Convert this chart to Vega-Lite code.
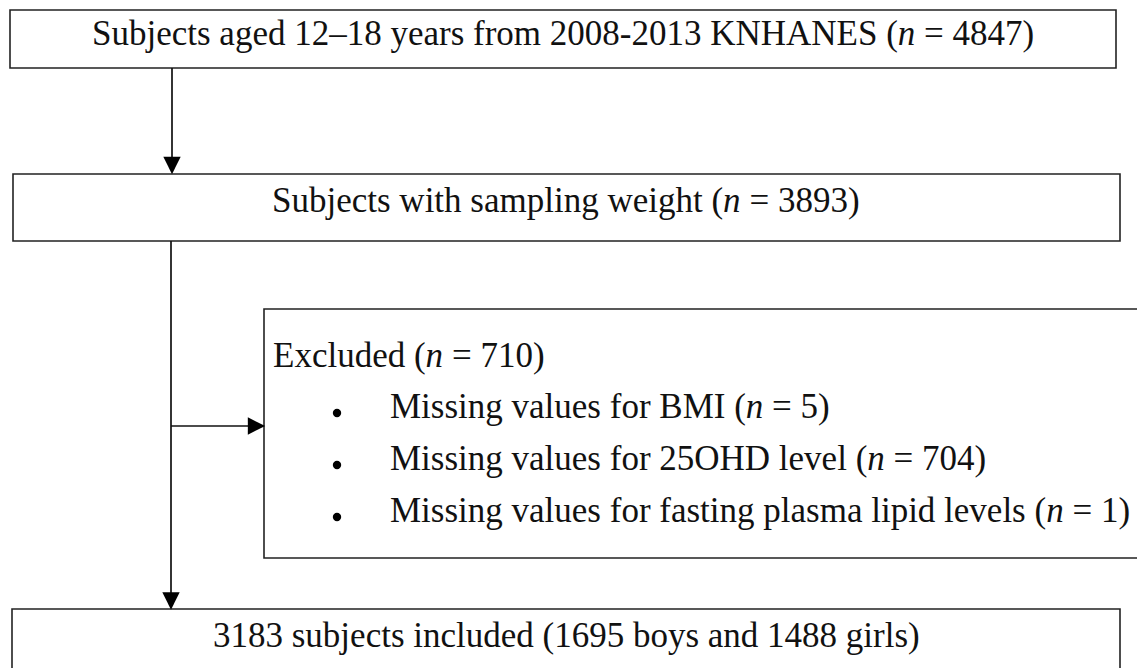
{
  "$schema": "https://vega.github.io/schema/vega-lite/v6.json",
  "width": 1137,
  "height": 668,
  "padding": 0,
  "autosize": {"type": "none"},
  "background": "white",
  "config": {"view": {"stroke": null}},
  "datasets": {
    "boxes": [
      {"x1": 10, "x2": 1116, "y1": 10, "y2": 68},
      {"x1": 13, "x2": 1120, "y1": 174, "y2": 241},
      {"x1": 264, "x2": 1150, "y1": 309, "y2": 558},
      {"x1": 12, "x2": 1120, "y1": 609, "y2": 690}
    ],
    "links": [
      {"x1": 172, "x2": 172, "y1": 68, "y2": 160},
      {"x1": 171, "x2": 171, "y1": 241, "y2": 598},
      {"x1": 171, "x2": 252, "y1": 426, "y2": 426}
    ],
    "arrows": [
      {"x": 172, "y": 165.5, "dir": "down"},
      {"x": 171, "y": 601, "dir": "down"},
      {"x": 256.5, "y": 426, "dir": "right"}
    ],
    "bullets": [
      {"x": 337, "y": 413},
      {"x": 337, "y": 465},
      {"x": 337, "y": 517}
    ],
    "texts": [
      {"x": 92, "y": 45, "t": "Subjects aged 12–18 years from 2008-2013 KNHANES ("},
      {"x": 924.1, "y": 45, "t": "= 4847)"},
      {"x": 272, "y": 212, "t": "Subjects with sampling weight ("},
      {"x": 749.4, "y": 212, "t": "= 3893)"},
      {"x": 273, "y": 367, "t": "Excluded ("},
      {"x": 451.9, "y": 367, "t": "= 710)"},
      {"x": 390, "y": 418, "t": "Missing values for BMI ("},
      {"x": 772, "y": 418, "t": "= 5)"},
      {"x": 390, "y": 470, "t": "Missing values for 25OHD level ("},
      {"x": 893.6, "y": 470, "t": "= 704)"},
      {"x": 390, "y": 522, "t": "Missing values for fasting plasma lipid levels ("},
      {"x": 1072.5, "y": 522, "t": "= 1)"},
      {"x": 213, "y": 647, "t": "3183 subjects included (1695 boys and 1488 girls)"}
    ],
    "italics": [
      {"x": 897.8, "y": 45, "t": "n"},
      {"x": 723.1, "y": 212, "t": "n"},
      {"x": 425.6, "y": 367, "t": "n"},
      {"x": 745.8, "y": 418, "t": "n"},
      {"x": 867.3, "y": 470, "t": "n"},
      {"x": 1046.2, "y": 522, "t": "n"}
    ]
  },
  "layer": [
    {
      "data": {"name": "boxes"},
      "mark": {"type": "rect", "fill": "white", "stroke": "#222222", "strokeWidth": 1.6},
      "encoding": {
        "x": {"field": "x1", "type": "quantitative", "scale": {"domain": [0, 1137], "nice": false, "zero": false}, "axis": null},
        "x2": {"field": "x2"},
        "y": {"field": "y1", "type": "quantitative", "scale": {"domain": [0, 668], "nice": false, "zero": false, "reverse": true}, "axis": null},
        "y2": {"field": "y2"}
      }
    },
    {
      "data": {"name": "links"},
      "mark": {"type": "rule", "stroke": "#111111", "strokeWidth": 1.7},
      "encoding": {
        "x": {"field": "x1", "type": "quantitative"},
        "x2": {"field": "x2"},
        "y": {"field": "y1", "type": "quantitative"},
        "y2": {"field": "y2"}
      }
    },
    {
      "data": {"name": "arrows"},
      "mark": {"type": "point", "filled": true, "fill": "#000000", "stroke": null, "opacity": 1, "size": 300},
      "encoding": {
        "x": {"field": "x", "type": "quantitative"},
        "y": {"field": "y", "type": "quantitative"},
        "shape": {"field": "dir", "type": "nominal", "scale": {"domain": ["down", "right"], "range": ["M-1,-1L1,-1L0,1Z", "M-1,-1L1,0L-1,1Z"]}, "legend": null}
      }
    },
    {
      "data": {"name": "bullets"},
      "mark": {"type": "circle", "fill": "#000000", "opacity": 1, "size": 70},
      "encoding": {
        "x": {"field": "x", "type": "quantitative"},
        "y": {"field": "y", "type": "quantitative"}
      }
    },
    {
      "data": {"name": "texts"},
      "mark": {"type": "text", "font": "Liberation Serif", "fontSize": 35, "align": "left", "baseline": "alphabetic", "color": "#111111"},
      "encoding": {
        "x": {"field": "x", "type": "quantitative"},
        "y": {"field": "y", "type": "quantitative"},
        "text": {"field": "t", "type": "nominal"}
      }
    },
    {
      "data": {"name": "italics"},
      "mark": {"type": "text", "font": "Liberation Serif", "fontSize": 35, "fontStyle": "italic", "align": "left", "baseline": "alphabetic", "color": "#111111"},
      "encoding": {
        "x": {"field": "x", "type": "quantitative"},
        "y": {"field": "y", "type": "quantitative"},
        "text": {"field": "t", "type": "nominal"}
      }
    }
  ]
}
